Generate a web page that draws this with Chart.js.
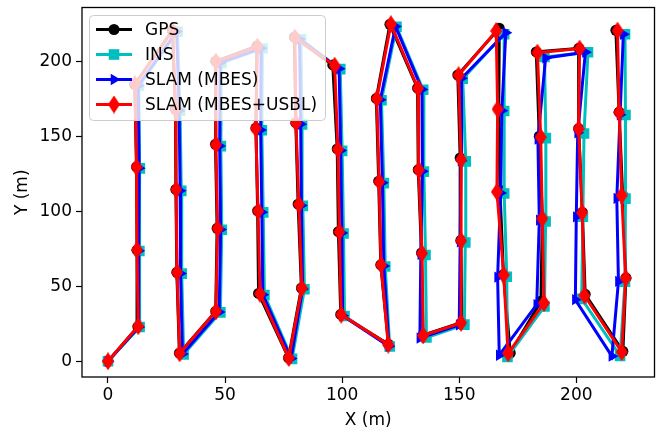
<!DOCTYPE html>
<html>
<head>
<meta charset="utf-8">
<script src="https://cdn.jsdelivr.net/npm/chart.js@4.4.0/dist/chart.umd.min.js"></script>
<style>
  html, body { margin: 0; padding: 0; background: #fff; }
  #wrap { width: 662px; height: 432px; position: relative; }
</style>
</head>
<body>
<div id="wrap"><canvas id="myChart"></canvas></div>
<script>
// Track points (m)
const gpsX = [0, 12.8, 12.4, 12.2, 11.4, 27.5, 28.8, 29.0, 29.4, 30.5, 46.0, 46.6, 45.9, 46.0, 63.6, 63.2, 63.9, 64.3, 77.1, 82.6, 81.2, 80.2, 79.6, 96.0, 97.9, 98.4, 99.4, 119.8, 116.5, 115.6, 114.6, 120.4, 132.2, 132.5, 133.9, 134.5, 151.1, 150.7, 150.4, 149.4, 167.1, 166.9, 167.4, 168.9, 171.8, 184.9, 185.5, 184.2, 182.9, 201.1, 201.0, 202.6, 203.8, 219.9, 221.2, 219.8, 218.3, 216.9];
const gpsY = [0, 23.0, 74.0, 129.5, 184.5, 220.5, 168.0, 114.5, 59.3, 5.4, 33.2, 88.6, 144.6, 200.0, 210.0, 155.4, 100.3, 45.2, 2.2, 48.8, 104.7, 159.0, 216.0, 197.5, 141.5, 86.4, 31.2, 11.3, 64.3, 120.0, 175.2, 224.6, 182.0, 127.7, 72.2, 17.3, 25.8, 80.5, 135.5, 190.8, 222.0, 168.2, 114.0, 57.8, 5.5, 40.0, 95.4, 150.0, 206.2, 208.6, 155.0, 99.2, 44.6, 6.6, 55.5, 110.8, 166.0, 220.6];

const insX = [0, 13.5, 13.4, 13.6, 13.2, 29.7, 30.8, 31.3, 31.5, 32.3, 48.0, 48.6, 48.2, 48.4, 66.0, 65.7, 66.3, 66.8, 78.6, 83.9, 83.2, 82.9, 82.4, 99.2, 100.0, 100.6, 101.0, 120.3, 118.4, 117.8, 116.8, 123.2, 134.6, 134.9, 135.6, 136.0, 152.2, 152.6, 152.8, 151.5, 169.2, 169.2, 169.2, 170.3, 170.6, 186.4, 186.9, 187.0, 186.4, 205.0, 203.3, 202.8, 202.3, 218.7, 220.8, 221.0, 221.0, 220.8];
const insY = [0, 22.8, 73.5, 128.6, 183.6, 219.6, 167.0, 113.6, 58.4, 4.6, 32.6, 87.7, 143.4, 198.8, 208.5, 154.0, 99.2, 44.2, 1.6, 48.0, 103.6, 157.8, 214.6, 194.7, 140.2, 85.2, 30.2, 9.8, 63.2, 118.7, 174.0, 223.0, 181.0, 126.4, 70.8, 15.8, 24.4, 79.2, 133.2, 188.4, 218.0, 166.8, 111.8, 56.3, 2.8, 36.5, 93.2, 148.7, 202.8, 206.0, 151.8, 96.3, 41.6, 3.6, 53.1, 108.4, 164.1, 218.0];

const slamX = [0, 13.2, 13.1, 13.3, 12.9, 29.3, 30.4, 30.8, 31.0, 31.8, 47.5, 48.1, 47.7, 47.9, 65.4, 65.2, 65.7, 66.1, 78.2, 83.1, 82.6, 82.3, 81.8, 98.7, 99.4, 99.9, 100.2, 120.0, 117.8, 117.2, 116.3, 122.8, 134.1, 134.3, 133.6, 133.2, 150.0, 150.4, 150.8, 151.0, 169.9, 168.2, 167.7, 166.4, 167.1, 183.1, 184.2, 183.6, 186.9, 203.9, 200.6, 200.0, 199.6, 215.2, 218.0, 217.3, 218.7, 220.1];
const slamY = [0, 22.8, 73.6, 128.7, 183.7, 219.8, 167.0, 113.7, 58.5, 4.8, 32.8, 87.8, 143.5, 199.0, 208.6, 154.2, 99.4, 44.4, 1.8, 48.2, 103.8, 158.0, 214.8, 195.0, 140.4, 85.5, 30.4, 10.0, 63.5, 118.9, 174.3, 223.2, 181.2, 126.6, 71.2, 15.4, 24.2, 79.6, 133.6, 188.6, 219.0, 167.0, 112.2, 56.0, 4.0, 37.8, 94.0, 148.0, 202.2, 206.0, 152.3, 96.3, 41.0, 3.4, 53.2, 108.5, 164.3, 218.0];

const usblX = [0, 12.9, 12.4, 12.2, 11.5, 27.6, 28.9, 29.1, 29.5, 30.6, 46.1, 46.8, 46.1, 46.1, 63.8, 63.1, 64.1, 64.9, 77.2, 82.8, 81.5, 80.3, 79.8, 96.8, 98.2, 98.8, 99.6, 119.7, 116.6, 115.8, 114.8, 120.8, 132.4, 132.7, 134.1, 134.6, 150.8, 150.8, 150.8, 149.7, 165.8, 166.4, 166.1, 169.0, 170.9, 186.2, 185.5, 184.8, 183.4, 201.4, 201.0, 202.5, 203.5, 219.4, 221.1, 219.4, 218.3, 217.6];
const usblY = [0, 23.4, 74.2, 129.4, 184.7, 220.3, 167.8, 114.4, 59.2, 5.3, 33.3, 88.5, 144.4, 199.8, 209.8, 155.2, 100.2, 45.0, 2.2, 48.8, 104.6, 158.8, 215.8, 197.0, 141.3, 86.3, 31.1, 11.1, 64.2, 119.7, 175.0, 224.7, 181.9, 127.6, 72.0, 17.2, 25.6, 80.4, 134.4, 190.7, 220.2, 168.0, 112.9, 57.5, 5.3, 38.8, 95.1, 149.4, 205.7, 208.4, 154.9, 99.0, 43.8, 6.2, 55.4, 110.6, 165.9, 220.4];

const seriesNames = ['GPS', 'INS', 'SLAM (MBES)', 'SLAM (MBES+USBL)'];
const xTicks = [0, 50, 100, 150, 200];
const yTicks = [0, 50, 100, 150, 200];

const FONT = 'DejaVu Sans';
const colors = ['#000000', '#00bfbf', '#0000ff', '#ff0000'];

function toPoints(xs, ys) {
    return xs.map(function (x, i) { return { x: x, y: ys[i] }; });
}

// thin diamond marker (matplotlib 'd')
function makeDiamond(w, h, color) {
    const c = document.createElement('canvas');
    c.width = w; c.height = h;
    const g = c.getContext('2d');
    g.fillStyle = color;
    g.beginPath();
    g.moveTo(w / 2, 0);
    g.lineTo(w, h / 2);
    g.lineTo(w / 2, h);
    g.lineTo(0, h / 2);
    g.closePath();
    g.fill();
    return c;
}
const diamond = makeDiamond(12, 18, colors[3]);

function drawMarker(ctx, kind, x, y) {
    ctx.beginPath();
    if (kind === 0) {
        ctx.arc(x, y, 5.5, 0, Math.PI * 2);
        ctx.fill();
    } else if (kind === 1) {
        ctx.fillRect(x - 5.3, y - 5.3, 10.6, 10.6);
    } else if (kind === 2) {
        const r = 6.5;
        ctx.moveTo(x + r, y);
        ctx.lineTo(x - r / 2, y - r * 0.866);
        ctx.lineTo(x - r / 2, y + r * 0.866);
        ctx.closePath();
        ctx.fill();
    } else {
        ctx.drawImage(diamond, x - 6, y - 9);
    }
}

// frame + legend drawn on top, like matplotlib
const framePlugin = {
    id: 'framePlugin',
    afterDatasetsDraw: function (chart) {
        const ctx = chart.ctx;
        const a = chart.chartArea;
        ctx.save();
        ctx.strokeStyle = '#000';
        ctx.lineWidth = 1.3;
        ctx.strokeRect(a.left, a.top, a.right - a.left, a.bottom - a.top);
        ctx.restore();
    },
    afterDraw: function (chart) {
        const ctx = chart.ctx;
        ctx.save();
        // legend box
        const bx = 89.5, by = 15.5, bw = 236, bh = 105, rr = 4;
        ctx.beginPath();
        ctx.moveTo(bx + rr, by);
        ctx.arcTo(bx + bw, by, bx + bw, by + bh, rr);
        ctx.arcTo(bx + bw, by + bh, bx, by + bh, rr);
        ctx.arcTo(bx, by + bh, bx, by, rr);
        ctx.arcTo(bx, by, bx + bw, by, rr);
        ctx.closePath();
        ctx.fillStyle = 'rgba(255,255,255,0.8)';
        ctx.fill();
        ctx.strokeStyle = '#cccccc';
        ctx.lineWidth = 1;
        ctx.stroke();

        ctx.font = '17px "' + FONT + '"';
        ctx.textBaseline = 'middle';
        for (let i = 0; i < seriesNames.length; i++) {
            const yy = 29.5 + i * 25;
            ctx.strokeStyle = colors[i];
            ctx.lineWidth = 3;
            ctx.beginPath();
            ctx.moveTo(96, yy);
            ctx.lineTo(132, yy);
            ctx.stroke();
            ctx.fillStyle = colors[i];
            drawMarker(ctx, i, 114, yy);
            ctx.fillStyle = '#000';
            ctx.fillText(seriesNames[i], 145, yy + 1);
        }
        ctx.restore();
    }
};

const ctx = document.getElementById('myChart');
const myChart = new Chart(ctx, {
    type: 'scatter',
    data: {
        datasets: [{
            label: seriesNames[0],
            data: toPoints(gpsX, gpsY),
            showLine: true,
            borderColor: colors[0],
            backgroundColor: colors[0],
            borderWidth: 3,
            pointStyle: 'circle',
            pointRadius: 5.5,
            pointBorderWidth: 0,
            order: 4
        }, {
            label: seriesNames[1],
            data: toPoints(insX, insY),
            showLine: true,
            borderColor: colors[1],
            backgroundColor: colors[1],
            borderWidth: 3,
            pointStyle: 'rect',
            pointRadius: 7.5,
            pointBorderWidth: 0,
            order: 3
        }, {
            label: seriesNames[2],
            data: toPoints(slamX, slamY),
            showLine: true,
            borderColor: colors[2],
            backgroundColor: colors[2],
            borderWidth: 3,
            pointStyle: 'triangle',
            pointRotation: 90,
            pointRadius: 6.5,
            pointBorderWidth: 0,
            order: 2
        }, {
            label: seriesNames[3],
            data: toPoints(usblX, usblY),
            showLine: true,
            borderColor: colors[3],
            backgroundColor: colors[3],
            borderWidth: 3,
            pointStyle: diamond,
            pointRadius: 6,
            pointBorderWidth: 0,
            order: 1
        }]
    },
    options: {
        responsive: true,
        maintainAspectRatio: false,
        animation: false,
        layout: { padding: { top: 6, right: 4, left: 0, bottom: 0 } },
        plugins: {
            legend: { display: false },
            tooltip: { enabled: false }
        },
        scales: {
            x: {
                type: 'linear',
                min: -11.1,
                max: 233.4,
                afterBuildTicks: function (axis) {
                    axis.ticks = xTicks.map(function (v) { return { value: v }; });
                },
                afterFit: function (axis) {
                    axis.height = 55;
                    axis.paddingLeft = 0;
                    axis.paddingRight = 0;
                },
                grid: { display: true, drawOnChartArea: false, drawTicks: true, tickLength: 6, tickColor: '#000', tickWidth: 1.2 },
                border: { display: false },
                ticks: { color: '#000', font: { family: FONT, size: 17 }, padding: 2, maxRotation: 0 },
                title: { display: true, text: 'X (m)', color: '#000', font: { family: FONT, size: 17 }, padding: { top: 0, bottom: 1 } }
            },
            y: {
                type: 'linear',
                min: -10.5,
                max: 235.8,
                afterBuildTicks: function (axis) {
                    axis.ticks = yTicks.map(function (v) { return { value: v }; });
                },
                afterFit: function (axis) {
                    axis.width = 82;
                    axis.paddingTop = 0;
                    axis.paddingBottom = 0;
                },
                grid: { display: true, drawOnChartArea: false, drawTicks: true, tickLength: 6, tickColor: '#000', tickWidth: 1.2 },
                border: { display: false },
                ticks: { color: '#000', font: { family: FONT, size: 17 }, padding: 4 },
                title: { display: true, text: 'Y (m)', color: '#000', font: { family: FONT, size: 17 }, padding: { top: 12, bottom: 0 } }
            }
        }
    },
    plugins: [framePlugin]
});
</script>
</body>
</html>
